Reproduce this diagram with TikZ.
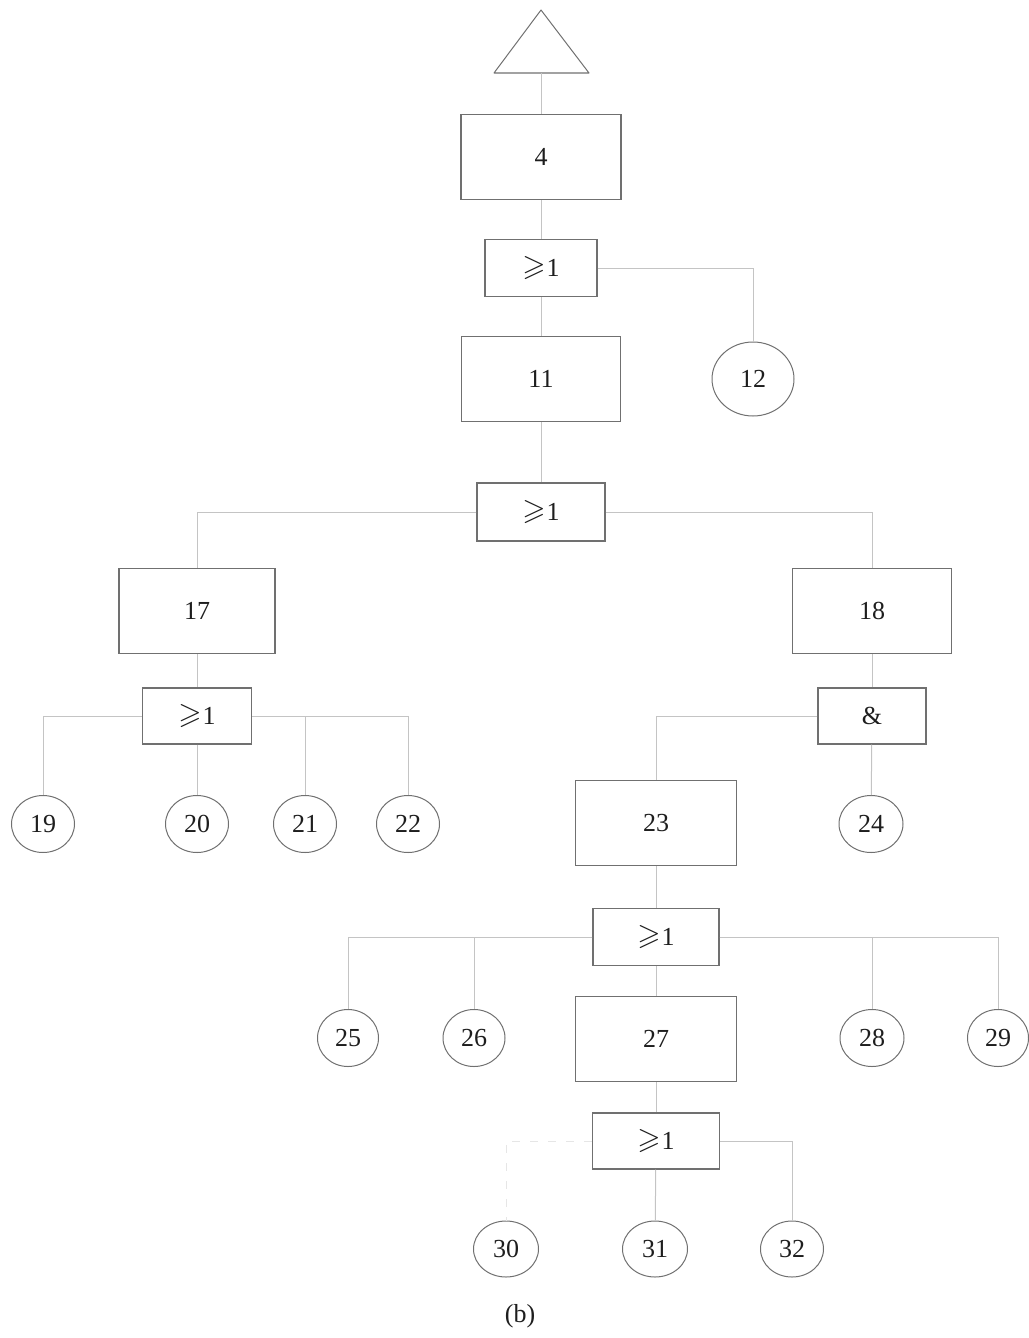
\documentclass[tikz,border=0pt]{standalone}
\usepackage{amssymb}
\usepackage{fontspec}
\setmainfont{Liberation Serif}
\usetikzlibrary{shapes.geometric}
\definecolor{boxgray}{HTML}{707070}
\definecolor{linegray}{HTML}{C4C4C4}
\definecolor{faintgray}{HTML}{E6E6E6}
\definecolor{txt}{HTML}{1E1E1E}
\tikzset{
  lbl/.style={text=txt, font=\fontsize{26}{26}\selectfont, inner sep=0pt},
  bigbox/.style={lbl, draw=boxgray, line width=1.1pt, minimum width=160pt, minimum height=85pt},
  gatebox/.style={lbl, draw=boxgray, line width=1.1pt, minimum height=57pt},
  basic/.style={lbl, draw=boxgray, line width=1pt, ellipse, minimum width=63pt, minimum height=57pt},
  conn/.style={draw=linegray, line width=1pt},
  faintconn/.style={draw=faintgray, line width=1pt, dashed, dash pattern=on 8pt off 10pt}
}
\newcommand{\gsym}{\raisebox{1pt}{\scalebox{1.15}{$\geqslant$}}\kern1pt 1}
\begin{document}
\begin{tikzpicture}[x=1pt,y=-1pt]
\useasboundingbox (0,0) rectangle (1028,1338);
% transfer triangle
\draw[boxgray, line width=1pt, line join=round] (494,73) -- (541,10) -- (589,73) -- cycle;
\coordinate (tri) at (541,73);
% nodes
\node[bigbox] (b4) at (541,157) {4};
\node[gatebox, minimum width=112pt] (g1) at (541,268) {\gsym};
\node[bigbox, minimum width=159pt] (b11) at (541,379) {11};
\node[basic, minimum width=82pt, minimum height=74pt] (c12) at (753,379) {12};
\node[gatebox, minimum width=128pt, minimum height=58pt] (g2) at (541,512) {\gsym};
\node[bigbox, minimum width=156pt] (b17) at (197,611) {17};
\node[bigbox, minimum width=159pt] (b18) at (872,611) {18};
\node[gatebox, minimum width=109pt, minimum height=56pt] (g3) at (197,716) {\gsym};
\node[basic] (c19) at (43,824) {19};
\node[basic] (c20) at (197,824) {20};
\node[basic] (c21) at (305,824) {21};
\node[basic] (c22) at (408,824) {22};
\node[gatebox, minimum width=108pt, minimum height=56pt] (g4) at (872,716) {\&};
\node[bigbox, minimum width=161pt] (b23) at (656,823) {23};
\node[basic, minimum width=64pt] (c24) at (871,824) {24};
\node[gatebox, minimum width=126pt] (g5) at (656,937) {\gsym};
\node[basic, minimum width=61pt] (c25) at (348,1038) {25};
\node[basic, minimum width=62pt] (c26) at (474,1038) {26};
\node[bigbox, minimum width=161pt] (b27) at (656,1039) {27};
\node[basic, minimum width=64pt] (c28) at (872,1038) {28};
\node[basic, minimum width=61pt] (c29) at (998,1038) {29};
\node[gatebox, minimum width=127pt, minimum height=56pt] (g6) at (656,1141) {\gsym};
\node[basic, minimum width=65pt, minimum height=56pt] (c30) at (506,1249) {30};
\node[basic, minimum width=65pt, minimum height=56pt] (c31) at (655,1249) {31};
\node[basic, minimum width=63pt, minimum height=56pt] (c32) at (792,1249) {32};
\node[lbl] (cap) at (520,1316) {(b)};
% connectors
\draw[conn] (tri) -- (b4);
\draw[conn] (b4) -- (g1);
\draw[conn] (g1) -- (b11);
\draw[conn] (g1.east) -| (c12);
\draw[conn] (b11) -- (g2);
\draw[conn] (g2.west) -| (b17);
\draw[conn] (g2.east) -| (b18);
\draw[conn] (b17) -- (g3);
\draw[conn] (g3.west) -| (c19);
\draw[conn] (g3) -- (c20);
\draw[conn] (g3.east) -| (c21);
\draw[conn] (g3.east) -| (c22);
\draw[conn] (b18) -- (g4);
\draw[conn] (g4.west) -| (b23);
\draw[conn] (g4) -- (c24);
\draw[conn] (b23) -- (g5);
\draw[conn] (g5.west) -| (c25);
\draw[conn] (g5.west) -| (c26);
\draw[conn] (g5) -- (b27);
\draw[conn] (g5.east) -| (c28);
\draw[conn] (g5.east) -| (c29);
\draw[conn] (b27) -- (g6);
\draw[conn] (g6) -- (c31);
\draw[conn] (g6.east) -| (c32);
\draw[faintconn] (g6.west) -| (c30);
\end{tikzpicture}
\end{document}
